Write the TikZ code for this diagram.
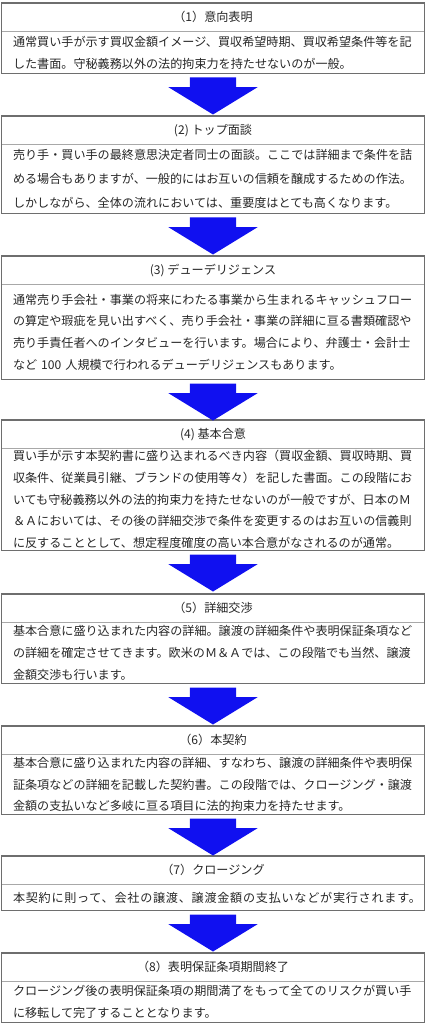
\documentclass[tikz,border=0pt]{standalone}
\usepackage{fontspec}
\setmainfont{Noto Sans CJK JP}
\usetikzlibrary{calc,shapes.arrows}
\definecolor{framegray}{HTML}{6E6E6E}
\definecolor{rulegray}{HTML}{A8A8A8}
\definecolor{stepblue}{HTML}{1010F0}
\definecolor{inkgray}{HTML}{262626}

\begin{document}
\begin{tikzpicture}[
      x=1pt,y=1pt,
      stagehead/.style={anchor=north,minimum width=422,minimum height=28,inner sep=0,font=\fontsize{12.1}{14}\selectfont,text=inkgray},
      stagebody/.style={anchor=north,text width=400,inner xsep=11,inner ysep=0,align=left,font=\fontsize{12.1}{21.7}\selectfont,text=inkgray},
      boxframe/.style={draw=framegray,line width=1.2},
      stagerule/.style={draw=rulegray,line width=0.8},
      downarrow/.style={single arrow,fill=stepblue,shape border rotate=270,anchor=tail,minimum height=37,minimum width=89,single arrow head extend=21.5,single arrow tip angle=117,single arrow head indent=0,inner xsep=23,inner ysep=0}
    ]
    \useasboundingbox (0,0) rectangle (427,-1024);

    % stages
    \node[stagehead] (t1) at (213,-3) {（1）意向表明};
    \node[stagebody,minimum height=42] (b1) at (t1.south) {通常買い手が示す買収金額イメージ、買収希望時期、買収希望条件等を記\\した書面。守秘義務以外の法的拘束力を持たせないのが一般。};

    \node[stagehead] (t2) at (213,-116) {(2) トップ面談};
    \node[stagebody,minimum height=69,font=\fontsize{12.1}{24}\selectfont] (b2) at (t2.south) {売り手・買い手の最終意思決定者同士の面談。ここでは詳細まで条件を詰\\める場合もありますが、一般的にはお互いの信頼を醸成するための作法。\\しかしながら、全体の流れにおいては、重要度はとても高くなります。};

    \node[stagehead] (t3) at (213,-256) {(3) デューデリジェンス};
    \node[stagebody,minimum height=95] (b3) at (t3.south) {通常売り手会社・事業の将来にわたる事業から生まれるキャッシュフロー\\の算定や瑕疵を見い出すべく、売り手会社・事業の詳細に亘る書類確認や\\売り手責任者へのインタビューを行います。場合により、弁護士・会計士\\など 100 人規模で行われるデューデリジェンスもあります。};

    \node[stagehead] (t4) at (213,-420) {(4) 基本合意};
    \node[stagebody,minimum height=102] (b4) at (t4.south) {買い手が示す本契約書に盛り込まれるべき内容（買収金額、買収時期、買\\収条件、従業員引継、ブランドの使用等々）を記した書面。この段階にお\\いても守秘義務以外の法的拘束力を持たせないのが一般ですが、日本のＭ\\＆Ａにおいては、その後の詳細交渉で条件を変更するのはお互いの信義則\\に反することとして、想定程度確度の高い本合意がなされるのが通常。};

    \node[stagehead] (t5) at (213,-594) {（5）詳細交渉};
    \node[stagebody,minimum height=61] (b5) at (t5.south) {基本合意に盛り込まれた内容の詳細。譲渡の詳細条件や表明保証条項など\\の詳細を確定させてきます。欧米のＭ＆Ａでは、この段階でも当然、譲渡\\金額交渉も行います。};

    \node[stagehead] (t6) at (213,-726) {（6）本契約};
    \node[stagebody,minimum height=60] (b6) at (t6.south) {基本合意に盛り込まれた内容の詳細、すなわち、譲渡の詳細条件や表明保\\証条項などの詳細を記載した契約書。この段階では、クロージング・譲渡\\金額の支払いなど多岐に亘る項目に法的拘束力を持たせます。};

    \node[stagehead] (t7) at (213,-856) {（7）クロージング};
    \node[stagebody,minimum height=26] (b7) at (t7.south) {\addfontfeature{LetterSpace=6.2}本契約に則って、会社の譲渡、譲渡金額の支払いなどが実行されます。};

    \node[stagehead] (t8) at (213,-953) {（8）表明保証条項期間終了};
    \node[stagebody,minimum height=41] (b8) at (t8.south) {クロージング後の表明保証条項の期間満了をもって全てのリスクが買い手\\に移転して完了することとなります。};

    % frames and dividers
    \foreach \i in {1,...,8} {
      \draw[stagerule] (t\i.south west) -- (t\i.south east);
      \draw[boxframe] (t\i.north west) rectangle (b\i.south east);
    }

    % arrows
    \foreach \i in {1,...,7}
      \node[downarrow] (a\i) at ($(b\i.south)+(0,-3.5)$) {};
  \end{tikzpicture}
\end{document}
